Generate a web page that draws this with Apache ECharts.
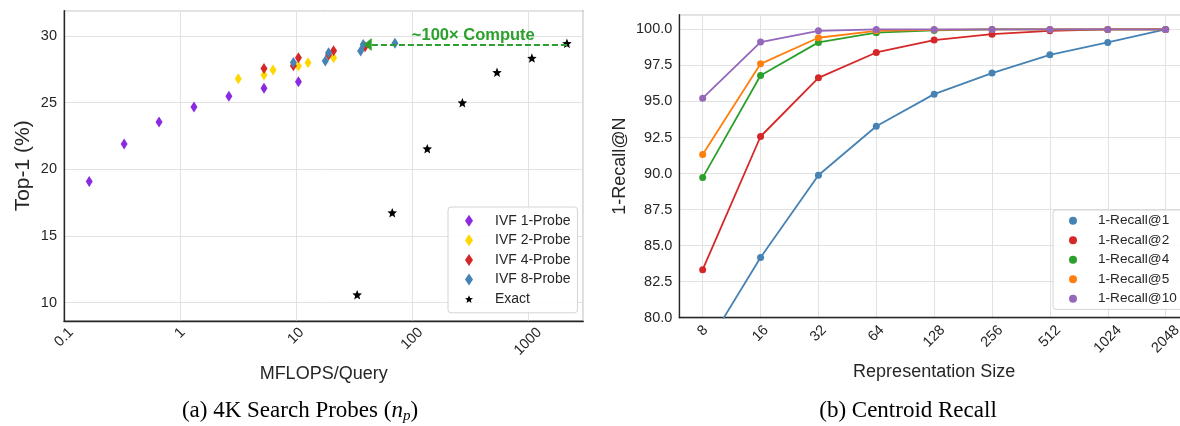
<!DOCTYPE html>
<html>
<head>
<meta charset="utf-8">
<script src="https://cdn.jsdelivr.net/npm/echarts@6/dist/echarts.min.js"></script>
<style>
  html, body { margin: 0; padding: 0; background: #fff; }
  #chart { width: 1180px; height: 426px; }
</style>
</head>
<body>
<div id="chart"></div>
<script>
// (a) 4K search probes: [MFLOPS/Query, Top-1 %]
const ivf1Probe = [[0.165, 19.1], [0.33, 21.9], [0.66, 23.55], [1.32, 24.67], [2.64, 25.48], [5.3, 26.08], [10.5, 26.57]]
const ivf2Probe = [[3.18, 26.8], [5.3, 27.07], [6.34, 27.45], [10.5, 27.75], [12.7, 28.0], [21.1, 28.37]]
const ivf4Probe = [[5.3, 27.57], [9.5, 27.77], [10.5, 28.37], [19.1, 28.57], [21.1, 28.9], [39.4, 29.2]]
const ivf8Probe = [[9.5, 28.02], [17.9, 28.12], [19.1, 28.75], [36.1, 28.88], [38, 29.37], [71.3, 29.45]]
const exactSearch = [[33.7, 10.6], [67.6, 16.75], [135.5, 21.55], [272, 25.0], [541, 27.28], [1081, 28.35], [2168, 29.45]]
const computeArrow = [[2168, 29.36], [41.5, 29.36]]
const mflopsTicks = [0.1, 1, 10, 100, 1000]

// (b) centroid recall
const reprSizes = [8, 16, 32, 64, 128, 256, 512, 1024, 2048]
const recallAt1 = [77.6, 84.17, 89.88, 93.28, 95.51, 96.97, 98.24, 99.1, 100]
const recallAt2 = [83.33, 92.57, 96.64, 98.4, 99.26, 99.67, 99.9, 100, 100]
const recallAt4 = [89.72, 96.8, 99.1, 99.77, 99.93, 100, 100, 100, 100]
const recallAt5 = [91.32, 97.61, 99.42, 99.9, 99.97, 100, 100, 100, 100]
const recallAt10 = [95.23, 99.12, 99.9, 100, 100, 100, 100, 100, 100]

const sans = 'Liberation Sans'
const ink = '#262626'
const green = '#2ca02c'
const tickFont = 14.5
const star = 'path://M0,-10 L2.6,-3.6 L9.5,-3.1 L4.2,1.4 L5.9,8.1 L0,4.4 L-5.9,8.1 L-4.2,1.4 L-9.5,-3.1 L-2.6,-3.6 Z'

const chart = echarts.init(document.getElementById('chart'), null, { renderer: 'canvas' })

function toPairs(ys) {
  return reprSizes.map((s, i) => [s, ys[i]])
}

// rotated tick labels centred on the tick like matplotlib: longer labels sit lower
function textWidth(s) {
  let w = 0
  for (const c of s) w += (c === '.' ? 0.278 : 0.556) * tickFont
  return w
}
function richKey(s) {
  return 'k' + s.replace('.', 'd')
}
function rotatedRich(labels) {
  const w0 = textWidth('1')
  const rich = {}
  labels.forEach(l => {
    const p = (textWidth(l) - w0) / 2
    rich[richKey(l)] = { fontSize: tickFont, fontFamily: sans, color: ink, padding: [p, p, 0, 0] }
  })
  return rich
}

function scatter(name, data, color, symbol, size) {
  return {
    name: name,
    type: 'scatter',
    xAxisIndex: 0,
    yAxisIndex: 0,
    data: data,
    symbol: symbol,
    symbolSize: size,
    itemStyle: { color: color, opacity: 1 },
    emphasis: { disabled: true }
  }
}

function recallLine(name, ys, color) {
  return {
    name: name,
    type: 'line',
    xAxisIndex: 1,
    yAxisIndex: 1,
    data: toPairs(ys),
    symbol: 'circle',
    symbolSize: 7,
    showAllSymbol: true,
    clip: true,
    lineStyle: { color: color, width: 1.8 },
    itemStyle: { color: color },
    emphasis: { disabled: true }
  }
}

const axisLine = { show: true, lineStyle: { color: ink, width: 1.3 } }
const splitLine = { show: true, lineStyle: { color: '#e2e2e2', width: 1 } }

const exactSeries = scatter('Exact', exactSearch, '#000', star, 9.5)
exactSeries.markLine = {
  silent: true,
  symbol: ['none', 'triangle'],
  symbolSize: [13, 8],
  lineStyle: { color: green, type: [6, 3], width: 1.8 },
  label: {
    show: true,
    position: 'insideMiddleTop',
    formatter: '~100× Compute',
    color: green,
    fontFamily: sans,
    fontWeight: 'bold',
    fontSize: 16.5,
    distance: 1,
    offset: [6, 0]
  },
  data: [[{ coord: computeArrow[0] }, { coord: computeArrow[1] }]]
}

const mflopsLabels = mflopsTicks.map(String)
const sizeLabels = reprSizes.map(String)

const option = {
  animation: false,
  backgroundColor: '#fff',
  textStyle: { fontFamily: sans, color: ink },
  grid: [
    { left: 64, top: 10.7, width: 519.3, height: 310.3, show: true, borderColor: '#999', borderWidth: 1.3, backgroundColor: 'transparent', outerBoundsMode: 'none' },
    { left: 679.3, top: 14.7, width: 509.7, height: 303, show: true, borderColor: '#999', borderWidth: 1.3, backgroundColor: 'transparent', outerBoundsMode: 'none' }
  ],
  xAxis: [
    {
      gridIndex: 0,
      type: 'log',
      logBase: 10,
      min: 0.1,
      max: 3000,
      name: 'MFLOPS/Query',
      nameLocation: 'middle',
      nameGap: 43,
      nameTextStyle: { fontSize: 18, color: ink, fontFamily: sans },
      axisLine: axisLine,
      axisTick: { show: false },
      splitLine: splitLine,
      axisLabel: {
        rotate: 45,
        align: 'center',
        verticalAlign: 'middle',
        margin: 12,
        fontSize: tickFont,
        color: ink,
        showMinLabel: true,
        showMaxLabel: false,
        rich: rotatedRich(mflopsLabels),
        formatter: v => {
          const s = String(+(+v).toPrecision(6))
          return mflopsLabels.indexOf(s) >= 0 ? '{' + richKey(s) + '|' + s + '}' : ''
        }
      }
    },
    {
      gridIndex: 1,
      type: 'log',
      logBase: 2,
      min: Math.pow(2, 2.596),
      max: Math.pow(2, 11.404),
      name: 'Representation Size',
      nameLocation: 'middle',
      nameGap: 44,
      nameTextStyle: { fontSize: 18, color: ink, fontFamily: sans },
      axisLine: axisLine,
      axisTick: { show: false },
      splitLine: splitLine,
      axisLabel: {
        rotate: 45,
        align: 'center',
        verticalAlign: 'middle',
        margin: 13,
        fontSize: tickFont,
        color: ink,
        showMinLabel: false,
        showMaxLabel: false,
        rich: rotatedRich(sizeLabels),
        formatter: v => {
          const n = Math.round(+v)
          const s = String(n)
          return sizeLabels.indexOf(s) >= 0 && Math.abs(n - v) < 1e-3 ? '{' + richKey(s) + '|' + s + '}' : ''
        }
      }
    }
  ],
  yAxis: [
    {
      gridIndex: 0,
      type: 'value',
      min: 8.63,
      max: 31.9,
      splitNumber: 5,
      name: 'Top-1 (%)',
      nameLocation: 'middle',
      nameGap: 30,
      nameTextStyle: { fontSize: 21, color: ink, fontFamily: sans },
      axisLine: axisLine,
      axisTick: { show: false },
      splitLine: splitLine,
      axisLabel: {
        fontSize: tickFont,
        color: ink,
        margin: 7,
        showMinLabel: false,
        showMaxLabel: false
      }
    },
    {
      gridIndex: 1,
      type: 'value',
      min: 80,
      max: 101.02,
      interval: 2.5,
      name: '1-Recall@N',
      nameLocation: 'middle',
      nameGap: 50,
      nameTextStyle: { fontSize: 18, color: ink, fontFamily: sans },
      axisLine: axisLine,
      axisTick: { show: false },
      splitLine: splitLine,
      axisLabel: {
        fontSize: tickFont,
        color: ink,
        margin: 7,
        showMaxLabel: false,
        formatter: v => (Math.abs(v - Math.round(v / 2.5) * 2.5) < 1e-6 ? (+v).toFixed(1) : '')
      }
    }
  ],
  legend: [
    {
      orient: 'vertical',
      left: 448,
      top: 207,
      padding: [6.7, 7, 6.7, 17],
      itemWidth: 8,
      itemHeight: 12,
      itemGap: 5.6,
      backgroundColor: 'rgba(255,255,255,0.85)',
      borderColor: '#d4d4d4',
      borderWidth: 1,
      borderRadius: 3,
      selectedMode: false,
      textStyle: { fontSize: 14, lineHeight: 14, color: ink, fontFamily: sans, padding: [0, 0, 0, 17] },
      data: [
        { name: 'IVF 1-Probe', icon: 'diamond' },
        { name: 'IVF 2-Probe', icon: 'diamond' },
        { name: 'IVF 4-Probe', icon: 'diamond' },
        { name: 'IVF 8-Probe', icon: 'diamond' },
        { name: 'Exact', icon: star }
      ]
    },
    {
      orient: 'vertical',
      left: 1053,
      top: 210,
      padding: [3.7, 14, 3.7, 16],
      itemWidth: 8,
      itemHeight: 8,
      itemGap: 5.5,
      backgroundColor: 'rgba(255,255,255,0.85)',
      borderColor: '#d4d4d4',
      borderWidth: 1,
      borderRadius: 3,
      selectedMode: false,
      textStyle: { fontSize: 13.6, lineHeight: 14, color: ink, fontFamily: sans, padding: [0, 0, 0, 16] },
      data: [
        { name: '1-Recall@1', icon: 'circle' },
        { name: '1-Recall@2', icon: 'circle' },
        { name: '1-Recall@4', icon: 'circle' },
        { name: '1-Recall@5', icon: 'circle' },
        { name: '1-Recall@10', icon: 'circle' }
      ]
    }
  ],
  graphic: [
    {
      type: 'text',
      x: 300,
      y: 411,
      style: {
        text: '{a|(a) 4K Search Probes (}{i|n}{s|p}{a|)}',
        align: 'center',
        verticalAlign: 'middle',
        rich: {
          a: { fontFamily: 'Liberation Serif', fontSize: 23, fill: '#000' },
          i: { fontFamily: 'Liberation Serif', fontStyle: 'italic', fontSize: 23, fill: '#000' },
          s: { fontFamily: 'Liberation Serif', fontStyle: 'italic', fontSize: 15, fill: '#000', padding: [11, 0, 0, 0] }
        }
      }
    },
    {
      type: 'text',
      x: 908,
      y: 411,
      style: {
        text: '(b) Centroid Recall',
        align: 'center',
        verticalAlign: 'middle',
        font: '23px "Liberation Serif"',
        fill: '#000'
      }
    }
  ],
  series: [
    scatter('IVF 1-Probe', ivf1Probe, '#8a2be2', 'diamond', [7, 11]),
    scatter('IVF 2-Probe', ivf2Probe, '#ffd700', 'diamond', [7, 11]),
    scatter('IVF 4-Probe', ivf4Probe, '#d62728', 'diamond', [7, 11]),
    scatter('IVF 8-Probe', ivf8Probe, '#4682b4', 'diamond', [7, 11]),
    exactSeries,
    recallLine('1-Recall@1', recallAt1, '#4682b4'),
    recallLine('1-Recall@2', recallAt2, '#d62728'),
    recallLine('1-Recall@4', recallAt4, '#2ca02c'),
    recallLine('1-Recall@5', recallAt5, '#ff7f0e'),
    recallLine('1-Recall@10', recallAt10, '#9467bd')
  ]
}

chart.setOption(option)
</script>
</body>
</html>
